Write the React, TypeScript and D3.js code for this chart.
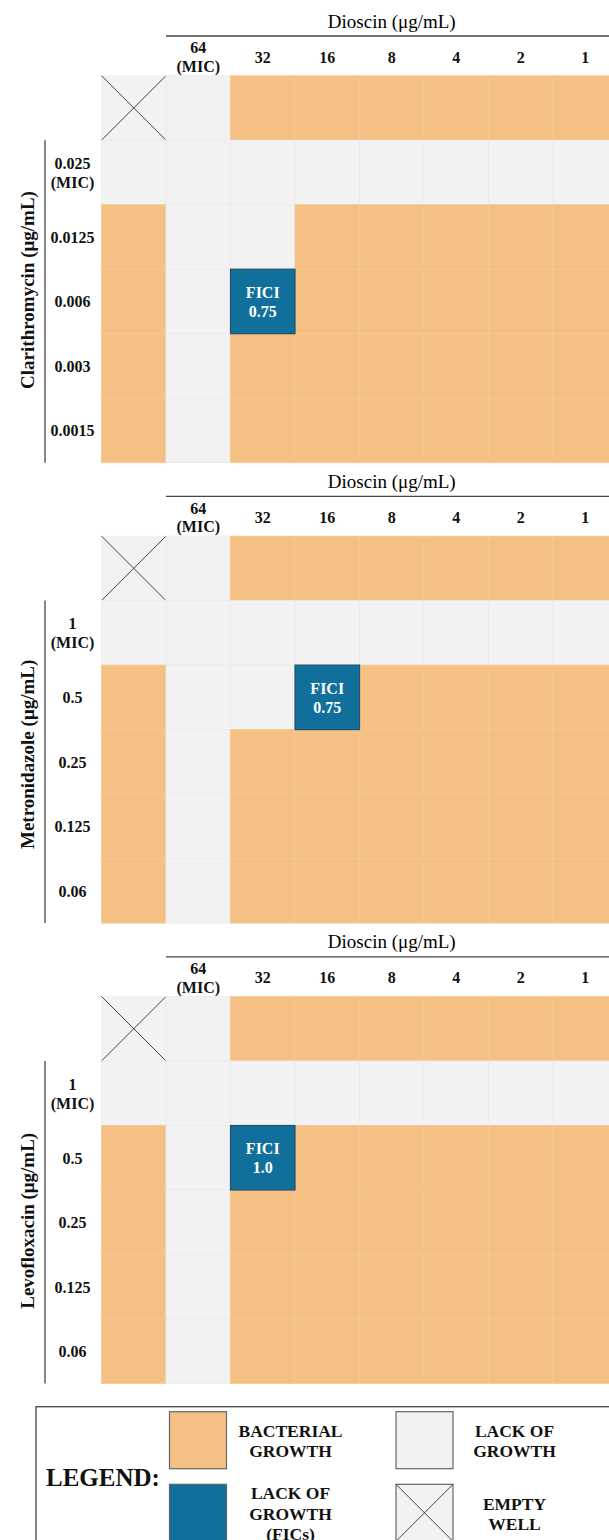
import React from 'react';
import * as d3 from 'd3';

const width = 609;
const height = 1540;
const font = "'Liberation Serif', 'Times New Roman', serif";

const colors = { G: '#f4c083', N: '#f2f2f2', F: '#116f9b', E: '#f2f2f2' };
const cellStroke = { G: '#f7c890', N: '#eaeaea', F: '#24506d', E: '#f2f2f2' };

// dioscin concentrations along the top, "ctrl" is the antibiotic-only column
const dioscinLabels = ['64\n(MIC)', '32', '16', '8', '4', '2', '1'];

// G = growth, N = lack of growth, F = lack of growth (FIC), E = empty well
const clarithromycinRows = ['0.025\n(MIC)', '0.0125', '0.006', '0.003', '0.0015'];
const clarithromycinWells = [
  'ENGGGGGG',
  'NNNNNNNN',
  'GNNGGGGG',
  'GNFGGGGG',
  'GNGGGGGG',
  'GNGGGGGG',
];
const clarithromycinFici = '0.75';

const metronidazoleRows = ['1\n(MIC)', '0.5', '0.25', '0.125', '0.06'];
const metronidazoleWells = [
  'ENGGGGGG',
  'NNNNNNNN',
  'GNNFGGGG',
  'GNGGGGGG',
  'GNGGGGGG',
  'GNGGGGGG',
];
const metronidazoleFici = '0.75';

const levofloxacinRows = ['1\n(MIC)', '0.5', '0.25', '0.125', '0.06'];
const levofloxacinWells = [
  'ENGGGGGG',
  'NNNNNNNN',
  'GNFGGGGG',
  'GNGGGGGG',
  'GNGGGGGG',
  'GNGGGGGG',
];
const levofloxacinFici = '1.0';

const panels = [
  { name: 'Clarithromycin (μg/mL)', rows: clarithromycinRows, wells: clarithromycinWells, fici: clarithromycinFici, titleY: 290 },
  { name: 'Metronidazole (μg/mL)', rows: metronidazoleRows, wells: metronidazoleWells, fici: metronidazoleFici, titleY: 294 },
  { name: 'Levofloxacin (μg/mL)', rows: levofloxacinRows, wells: levofloxacinWells, fici: levofloxacinFici, titleY: 300 },
];

const legendItems = [
  { key: 'G', lines: ['BACTERIAL', 'GROWTH'] },
  { key: 'N', lines: ['LACK OF', 'GROWTH'] },
  { key: 'F', lines: ['LACK OF', 'GROWTH', '(FICs)'] },
  { key: 'E', lines: ['EMPTY', 'WELL'] },
];

const panelStep = 460.4;
const cols = ['ctrl', ...dioscinLabels];

const xScale = d3.scaleBand().domain(cols).range([101.5, 101.5 + 64.5 * cols.length]);

function MultiText({ x, y, lines, gap, ...rest }) {
  const y0 = y - ((lines.length - 1) * gap) / 2;
  return (
    <text x={x} textAnchor="middle" dominantBaseline="central" fontFamily={font} {...rest}>
      {lines.map((l, i) => (
        <tspan key={i} x={x} y={y0 + i * gap}>{l}</tspan>
      ))}
    </text>
  );
}

function Panel({ panel, offset }) {
  const rowKeys = ['ctrl', ...panel.rows];
  const yScale = d3.scaleBand().domain(rowKeys).range([75.7, 75.7 + 64.5 * rowKeys.length]);
  const bw = xScale.bandwidth();
  const bh = yScale.bandwidth();
  const firstRow = yScale(panel.rows[0]);
  const bottom = yScale(panel.rows[panel.rows.length - 1]) + bh;
  const gridLeft = xScale(dioscinLabels[0]);

  return (
    <g transform={`translate(0, ${offset})`}>
      <text x={(gridLeft + xScale.range()[1]) / 2} y={21} textAnchor="middle" dominantBaseline="central"
        fontFamily={font} fontSize={19}>Dioscin (μg/mL)</text>
      <line x1={gridLeft} x2={width} y1={36} y2={36} stroke="#444" strokeWidth={1.3} />
      {dioscinLabels.map(d => (
        <MultiText key={d} x={xScale(d) + bw / 2} y={56.5} lines={d.split('\n')} gap={18.5}
          fontSize={16} fontWeight="bold" fill="#111" />
      ))}

      {panel.wells.map((row, ri) =>
        row.split('').map((k, ci) => {
          const x = xScale(cols[ci]);
          const y = yScale(rowKeys[ri]);
          if (k === 'F') return null;
          return (
            <g key={`${ri}-${ci}`}>
              <rect x={x} y={y} width={bw} height={bh} fill={colors[k]} stroke={cellStroke[k]} strokeWidth={0.8} />
              {k === 'E' && (
                <>
                  <line x1={x} y1={y} x2={x + bw} y2={y + bh} stroke="#444" strokeWidth={1} />
                  <line x1={x + bw} y1={y} x2={x} y2={y + bh} stroke="#444" strokeWidth={1} />
                </>
              )}
            </g>
          );
        })
      )}
      {panel.wells.map((row, ri) =>
        row.split('').map((k, ci) => {
          if (k !== 'F') return null;
          const x = xScale(cols[ci]);
          const y = yScale(rowKeys[ri]);
          return (
            <g key={`f-${ri}-${ci}`}>
              <rect x={x} y={y} width={bw} height={bh} fill={colors.F} stroke={cellStroke.F} strokeWidth={1.2} />
              <MultiText x={x + bw / 2} y={y + bh / 2} lines={['FICI', panel.fici]} gap={19.5}
                fontSize={16} fontWeight="bold" fill="#fff" />
            </g>
          );
        })
      )}

      <line x1={45} x2={45} y1={firstRow} y2={bottom} stroke="#444" strokeWidth={1.3} />
      {panel.rows.map(r => (
        <MultiText key={r} x={72.5} y={yScale(r) + bh / 2} lines={r.split('\n')} gap={19}
          fontSize={16} fontWeight="bold" fill="#111" />
      ))}
      <text transform={`translate(27, ${panel.titleY}) rotate(-90)`} textAnchor="middle" dominantBaseline="central"
        fontFamily={font} fontSize={19} fontWeight="bold" fill="#111">{panel.name}</text>
    </g>
  );
}

function Legend() {
  const top = 1406.7;
  const sw = 57;
  const xs = [169.5, 396];
  const ys = [1411.7, 1484.3];
  const textX = [290.5, 514.5];
  return (
    <g>
      <rect x={36} y={top} width={width} height={200} fill="#fff" stroke="#444" strokeWidth={1.3} />
      <text x={46} y={1477} dominantBaseline="central" fontFamily={font} fontSize={25} fontWeight="bold"
        fill="#111">LEGEND:</text>
      {legendItems.map((d, i) => {
        const cx = i % 2;
        const cy = Math.floor(i / 2);
        const x = xs[cx];
        const y = ys[cy];
        return (
          <g key={d.key}>
            <rect x={x} y={y} width={sw} height={sw} fill={colors[d.key]} stroke="#666" strokeWidth={1.2} />
            {d.key === 'E' && (
              <>
                <line x1={x} y1={y} x2={x + sw} y2={y + sw} stroke="#444" strokeWidth={1} />
                <line x1={x + sw} y1={y} x2={x} y2={y + sw} stroke="#444" strokeWidth={1} />
              </>
            )}
            <MultiText x={textX[cx]} y={y + sw / 2 + 1} lines={d.lines} gap={20.5}
              fontSize={17.5} fontWeight="bold" fill="#111" />
          </g>
        );
      })}
    </g>
  );
}

export default function App() {
  return (
    <svg width={width} height={height} style={{ position: 'absolute', left: 0, top: 0, background: '#fff' }}>
      <rect width={width} height={height} fill="#fff" />
      {panels.map((p, i) => (
        <Panel key={p.name} panel={p} offset={i * panelStep} />
      ))}
      <Legend />
    </svg>
  );
}
